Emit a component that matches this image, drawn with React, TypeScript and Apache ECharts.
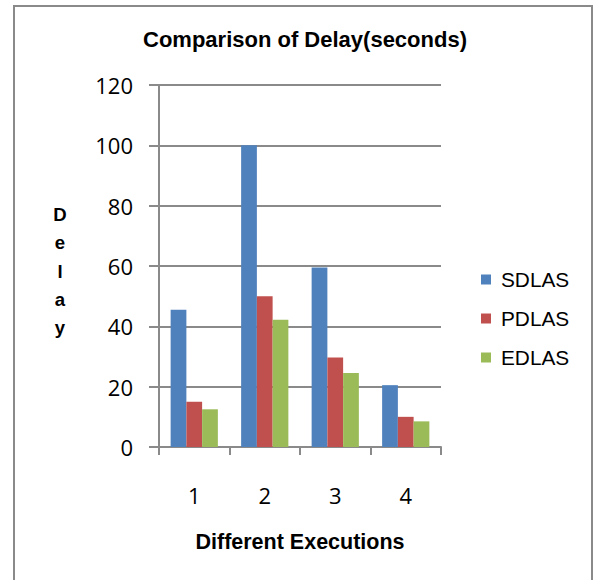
import React, { useEffect, useRef } from "react";
import * as echarts from "echarts";

const categories = ["1", "2", "3", "4"];
const seriesNames = ["SDLAS", "PDLAS", "EDLAS"];
const sdlasValues = [45.5, 100, 59.5, 20.5];
const pdlasValues = [15, 50, 29.7, 10];
const edlasValues = [12.5, 42.2, 24.5, 8.5];
const seriesColors = ["#4F81BD", "#C0504D", "#9BBB59"];
const yMin = 0;
const yMax = 120;
const yInterval = 20;

const titleText = "Comparison of Delay(seconds)";
const xAxisTitle = "Different Executions";
const yAxisTitle = "Delay";

const AXIS_COLOR = "#8a8a8a";
const SANS = "'Liberation Sans', Arial, sans-serif";
const NUM_FONT = "'Open Sans', 'Liberation Sans', sans-serif";

export default function App() {
  const ref = useRef<HTMLDivElement>(null);

  useEffect(() => {
    const chart = echarts.init(ref.current!, null, { renderer: "svg" });
    const values = [sdlasValues, pdlasValues, edlasValues];
    chart.setOption({
      animation: false,
      backgroundColor: "#ffffff",
      grid: { left: 159, right: 153, top: 85, bottom: 133, containLabel: false },
      legend: {
        orient: "vertical",
        left: 481,
        top: 269,
        padding: 0,
        itemWidth: 10,
        itemHeight: 10,
        itemGap: 18,
        icon: "rect",
        data: seriesNames,
        textStyle: {
          fontFamily: SANS,
          fontSize: 20.8,
          lineHeight: 20,
          color: "#000",
          padding: [0, 0, 0, 5],
        },
      },
      xAxis: {
        type: "category",
        data: categories,
        name: xAxisTitle,
        nameLocation: "middle",
        nameGap: 84,
        nameTextStyle: {
          fontFamily: SANS,
          fontSize: 21.5,
          fontWeight: "bold",
          color: "#000",
        },
        axisLine: { show: true, lineStyle: { color: AXIS_COLOR, width: 2 } },
        axisTick: { show: true, length: 8, lineStyle: { color: AXIS_COLOR, width: 2 } },
        axisLabel: {
          margin: 37,
          fontFamily: NUM_FONT,
          fontSize: 22,
          color: "#000",
        },
      },
      yAxis: {
        type: "value",
        min: yMin,
        max: yMax,
        interval: yInterval,
        axisLine: { show: true, lineStyle: { color: AXIS_COLOR, width: 2 } },
        axisTick: { show: true, length: 10, lineStyle: { color: AXIS_COLOR, width: 2 } },
        splitLine: { show: true, lineStyle: { color: AXIS_COLOR, width: 2 } },
        axisLabel: {
          margin: 26,
          fontFamily: NUM_FONT,
          fontSize: 22,
          color: "#000",
        },
      },
      graphic: [
        {
          type: "rect",
          silent: true,
          shape: { x: 14, y: 6, width: 578, height: 600 },
          style: { fill: "none", stroke: AXIS_COLOR, lineWidth: 2 },
        },
        {
          type: "text",
          x: 305,
          y: 39.5,
          style: {
            text: titleText,
            fontFamily: SANS,
            fontSize: 22,
            fontWeight: "bold",
            fill: "#000",
            textAlign: "center",
            textVerticalAlign: "middle",
          },
        },
        {
          type: "text",
          x: 60,
          y: 271,
          style: {
            text: yAxisTitle.split("").join("\n"),
            fontFamily: SANS,
            fontSize: 18.6,
            fontWeight: "bold",
            lineHeight: 28.2,
            fill: "#000",
            textAlign: "center",
            textVerticalAlign: "middle",
          },
        },
      ],
      series: seriesNames.map((name, i) => ({
        name,
        type: "bar",
        data: values[i],
        barGap: "0%",
        barCategoryGap: "33%",
        itemStyle: { color: seriesColors[i] },
      })),
    });
    return () => chart.dispose();
  }, []);

  return (
    <div
      ref={ref}
      style={{ position: "absolute", left: 0, top: 0, width: 594, height: 580, background: "#fff" }}
    />
  );
}
